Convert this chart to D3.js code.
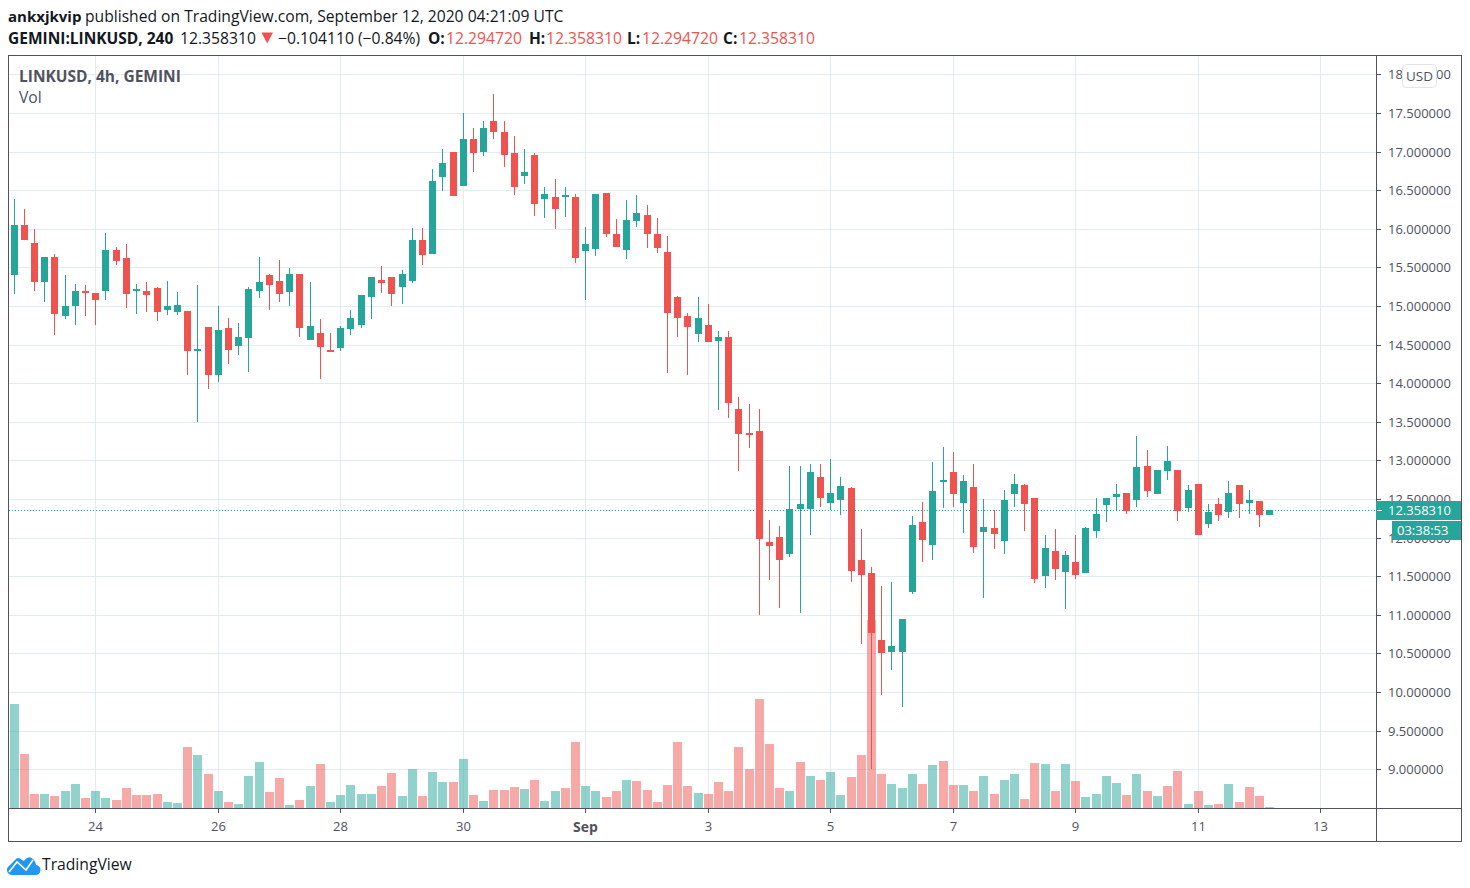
<!DOCTYPE html>
<html>
<head>
<meta charset="utf-8">
<title>LINKUSD</title>
<script src="https://cdnjs.cloudflare.com/ajax/libs/d3/7.8.5/d3.min.js"></script>
<style>
  html, body { margin: 0; padding: 0; background: #fff; }
  svg { display: block; }
  text { font-family: "Open Sans", "Noto Sans", sans-serif; }
</style>
</head>
<body>
<div id="chart"></div>
<script>
// 4h candles, first one is Aug 22 16:00
const opens = [
  15.40,16.05,15.82,15.31,15.63,14.87,15.00,15.20,15.17,15.20,
  15.73,15.62,15.19,15.19,15.23,14.95,14.92,14.93,14.42,14.73,
  14.10,14.71,14.48,14.59,15.20,15.40,15.33,15.18,15.41,14.56,
  14.65,14.43,14.45,14.70,14.75,15.12,15.34,15.38,15.25,15.33,
  15.86,15.68,16.67,16.99,16.55,17.16,17.00,17.40,17.26,16.98,
  16.69,16.95,16.38,16.41,16.41,16.41,15.71,15.74,16.46,15.93,
  15.73,16.10,16.18,15.93,15.70,15.12,14.87,14.64,14.75,14.55,
  14.60,13.66,13.35,13.38,11.94,12.01,11.79,12.37,12.37,12.79,
  12.45,12.49,12.64,11.71,11.54,10.67,10.52,10.52,11.30,12.20,
  11.91,12.72,12.85,12.45,12.65,12.07,12.13,11.96,12.57,12.68,
  12.51,11.50,11.83,11.56,11.69,11.54,12.09,12.42,12.52,12.58,
  12.49,12.93,12.57,12.86,12.88,12.38,12.69,12.18,12.44,12.33,
  12.68,12.45,12.47,12.29472
];
const highs = [
  16.39,16.26,16.00,15.63,15.68,15.40,15.29,15.27,15.17,15.95,
  15.77,15.80,15.29,15.31,15.24,15.32,15.18,14.93,15.27,14.73,
  15.00,14.85,14.78,15.24,15.63,15.41,15.59,15.49,15.41,15.31,
  14.83,14.65,14.74,14.95,15.14,15.37,15.52,15.38,15.47,16.01,
  16.01,16.77,17.03,16.99,17.50,17.31,17.40,17.75,17.40,17.20,
  17.03,16.98,16.54,16.65,16.54,16.45,16.02,16.45,16.47,16.13,
  16.37,16.44,16.31,16.14,15.91,15.13,14.91,15.12,15.03,14.68,
  14.67,13.82,13.73,13.66,12.23,12.15,12.93,12.93,12.95,12.95,
  13.02,12.79,12.65,12.11,11.62,11.37,11.42,10.95,12.28,12.46,
  12.98,13.18,13.11,12.81,12.95,12.50,12.36,12.62,12.83,12.70,
  12.51,12.04,12.11,11.83,12.03,12.14,12.51,12.51,12.70,12.58,
  13.31,13.14,12.87,13.19,12.88,12.68,12.69,12.43,12.51,12.73,
  12.68,12.62,12.47,12.35831
];
const lows = [
  15.15,15.85,15.20,15.05,14.62,14.83,14.75,14.87,14.75,15.08,
  15.53,14.97,14.90,14.92,14.80,14.88,14.88,14.11,13.50,13.92,
  14.02,14.25,14.37,14.14,15.10,14.95,15.05,15.00,14.60,14.56,
  14.05,14.41,14.42,14.63,14.71,14.83,15.17,15.00,15.03,15.30,
  15.53,15.68,16.49,16.42,16.55,16.74,16.94,17.16,16.80,16.44,
  16.58,16.17,16.14,16.00,16.15,15.56,15.08,15.65,15.89,15.77,
  15.61,16.02,15.75,15.69,14.13,14.60,14.11,14.54,14.54,13.65,
  13.55,12.86,13.16,11.00,11.45,11.09,11.75,11.02,12.04,12.40,
  12.36,12.29,11.43,10.62,9.00,9.96,10.29,9.80,11.27,11.69,
  11.71,12.38,12.40,12.06,11.80,11.22,11.85,11.79,12.39,12.08,
  11.41,11.35,11.45,11.07,11.47,11.54,12.00,12.20,12.34,12.30,
  12.40,12.52,12.56,12.74,12.21,12.33,12.04,12.13,12.21,12.26,
  12.26,12.30,12.14,12.29472
];
const closes = [
  16.05,15.85,15.31,15.63,14.89,15.00,15.20,15.18,15.08,15.73,
  15.58,15.15,15.22,15.14,14.92,15.00,15.01,14.42,14.44,14.10,
  14.69,14.43,14.60,15.22,15.31,15.27,15.16,15.41,14.71,14.74,
  14.47,14.41,14.71,14.84,15.14,15.37,15.30,15.15,15.42,15.86,
  15.66,16.62,16.85,16.42,17.16,16.98,17.30,17.25,16.95,16.54,
  16.73,16.32,16.45,16.26,16.44,15.62,15.80,16.45,15.93,15.77,
  16.11,16.20,15.93,15.75,14.91,14.84,14.73,14.85,14.54,14.60,
  13.74,13.34,13.33,11.98,11.89,11.71,12.37,12.44,12.85,12.51,
  12.58,12.67,11.57,11.52,10.76,10.51,10.59,10.94,12.16,11.97,
  12.60,12.75,12.56,12.73,11.88,12.14,12.05,12.49,12.70,12.43,
  11.46,11.86,11.59,11.77,11.52,12.12,12.31,12.51,12.57,12.35,
  12.92,12.60,12.87,12.99,12.35,12.62,12.04,12.33,12.29,12.58,
  12.43,12.49,12.29,12.35831
];
// volume has no scale in the picture, so these are relative heights
const volumes = [
  313,163,43,43,37,52,73,31,52,31,
  25,61,40,40,43,19,16,184,160,103,
  52,19,13,97,139,49,91,10,25,67,
  133,19,40,70,43,43,67,106,37,118,
  37,109,79,79,148,40,22,55,55,64,
  58,85,22,52,61,199,67,52,34,52,
  85,82,55,19,70,199,67,46,43,79,
  52,184,118,328,193,61,52,139,97,85,
  109,40,94,160,564,103,73,61,103,73,
  130,142,70,70,52,97,43,85,103,28,
  136,133,52,133,82,34,43,97,76,40,
  103,52,37,67,112,13,52,10,13,73,
  19,64,37,4
];
// volume colour does not always follow the candle colour
const volumeDir = [
  'udduduuduu', 'ddddduudud', 'uduuuddudu', 'duuuuudduu',
  'duudududdd', 'uduudduudd', 'uddddddudd', 'ddddddudud',
  'uudddduuud', 'uddududuud', 'dududuuuud', 'ududdududu', 'dddu'
].join('').split('');

const priceTicks = [18, 17.5, 17, 16.5, 16, 15.5, 15, 14.5, 14, 13.5, 13, 12.5, 12, 11.5, 11, 10.5, 10, 9.5, 9];
const dateTickIndex = [8, 20, 32, 44, 56, 68, 80, 92, 104, 116, 128];
const dateTickLabels = ['24', '26', '28', '30', 'Sep', '3', '5', '7', '9', '11', '13'];
const lastPrice = 12.35831;

const width = 1470, height = 888;
const ink = '#50535e', gridColor = '#e1ecf2';
const upColor = '#26a69a', downColor = '#ef5350';
const paneLeft = 9, paneRight = 1376, paneTop = 56, paneBottom = 808;

const svg = d3.select('#chart').append('svg').attr('width', width).attr('height', height);

const x = d3.scaleLinear().domain([0, 123]).rangeRound([13.6, 1269.2]);
const y = d3.scaleLinear().domain([9, 18]).rangeRound([769.2, 74.4]);
const yVol = d3.scaleLinear().domain([0, 564]).rangeRound([808, 620]);

// grid
const grid = svg.append('g');
grid.selectAll('.hgrid').data(priceTicks).enter().append('rect')
  .attr('x', paneLeft).attr('y', d => y(d))
  .attr('width', paneRight - paneLeft).attr('height', 1).attr('fill', gridColor);
grid.selectAll('.vgrid').data(dateTickIndex).enter().append('rect')
  .attr('x', d => x(d)).attr('y', paneTop)
  .attr('width', 1).attr('height', paneBottom - paneTop).attr('fill', gridColor);

// volume
svg.append('g').selectAll('rect').data(volumes).enter().append('rect')
  .attr('x', (d, i) => x(i) - 4)
  .attr('y', d => yVol(d))
  .attr('width', 9)
  .attr('height', d => yVol(0) - yVol(d))
  .attr('fill', (d, i) => volumeDir[i] === 'u' ? upColor : downColor)
  .attr('fill-opacity', 0.5);

// last price line, it runs under the candles
svg.append('line')
  .attr('x1', paneLeft).attr('x2', paneRight)
  .attr('y1', y(lastPrice) + 0.5).attr('y2', y(lastPrice) + 0.5)
  .attr('stroke', upColor).attr('stroke-dasharray', '1 2');

// candles
const candles = svg.append('g').selectAll('g').data(opens).enter().append('g')
  .attr('fill', (d, i) => closes[i] >= d ? upColor : downColor);
candles.append('rect')
  .attr('x', (d, i) => x(i))
  .attr('y', (d, i) => y(highs[i]))
  .attr('width', 1)
  .attr('height', (d, i) => y(lows[i]) - y(highs[i]));
candles.append('rect')
  .attr('x', (d, i) => x(i) - 3)
  .attr('y', (d, i) => y(Math.max(d, closes[i])))
  .attr('width', 7)
  .attr('height', (d, i) => Math.max(2, y(Math.min(d, closes[i])) - y(Math.max(d, closes[i]))));

// axes
const priceAxis = svg.append('g')
  .attr('transform', `translate(${paneRight},0)`)
  .call(d3.axisRight(y).tickValues(priceTicks).tickFormat(d3.format('.6f')).tickSize(5).tickPadding(7));
const dateAxis = svg.append('g')
  .attr('transform', `translate(0,${paneBottom})`)
  .call(d3.axisBottom(x).tickValues(dateTickIndex).tickFormat((d, i) => dateTickLabels[i]).tickSize(5).tickPadding(9));
[priceAxis, dateAxis].forEach(a => {
  a.select('.domain').remove();
  a.selectAll('line').attr('stroke', ink);
  a.selectAll('text').attr('fill', ink).style('font-size', '13px').style('font-family', null);
});
dateAxis.selectAll('text').filter(d => d === 56).style('font-weight', 'bold').style('font-size', '14px');

// frame
svg.append('rect').attr('x', 8.5).attr('y', 55.5).attr('width', 1453).attr('height', 786)
  .attr('fill', 'none').attr('stroke', ink);
svg.append('rect').attr('x', paneRight).attr('y', paneTop).attr('width', 1).attr('height', 785).attr('fill', ink);
svg.append('rect').attr('x', paneLeft).attr('y', paneBottom).attr('width', 1452).attr('height', 1).attr('fill', ink);

// USD box
svg.append('rect').attr('x', 1402.5).attr('y', 64.5).attr('width', 34).attr('height', 23).attr('rx', 4)
  .attr('fill', '#fff').attr('stroke', '#e0e3eb');
svg.append('text').attr('x', 1419.5).attr('y', 80.5).attr('text-anchor', 'middle')
  .attr('fill', ink).style('font-size', '13.5px').text('USD');

// last price labels
svg.append('rect').attr('x', paneRight).attr('y', 501).attr('width', 85).attr('height', 19).attr('fill', upColor);
svg.append('rect').attr('x', paneRight + 1).attr('y', y(lastPrice)).attr('width', 5).attr('height', 1).attr('fill', '#fff');
svg.append('text').attr('x', 1388).attr('y', 515).attr('fill', '#fff').style('font-size', '13px').text(d3.format('.6f')(lastPrice));
svg.append('rect').attr('x', 1392).attr('y', 521).attr('width', 69).attr('height', 19).attr('fill', upColor);
svg.append('text').attr('x', 1397).attr('y', 535).attr('fill', '#fff').style('font-size', '13px').text('03:38:53');

// header
const dark = '#131722';
function label(px, py, str, color, bold, size) {
  return svg.append('text').attr('x', px).attr('y', py).attr('fill', color)
    .style('font-weight', bold ? 'bold' : 'normal').style('font-size', size + 'px').text(str);
}
label(8, 22, 'ankxjkvip', dark, true, 15);
label(85, 22, 'published on TradingView.com, September 12, 2020 04:21:09 UTC', dark, false, 15.65);
label(8, 44, 'GEMINI:LINKUSD, 240', dark, true, 15.5);
label(180, 44, '12.358310', dark, false, 15.7);
svg.append('path').attr('d', 'M261.5,32.5H273L267.2,43.5Z').attr('fill', downColor);
label(278, 44, '\u22120.104110 (\u22120.84%)', dark, false, 15.7);
label(428, 44, 'O:', dark, true, 15.5);
label(446, 44, '12.294720', downColor, false, 15.7);
label(529, 44, 'H:', dark, true, 15.5);
label(546, 44, '12.358310', downColor, false, 15.7);
label(627, 44, 'L:', dark, true, 15.5);
label(642, 44, '12.294720', downColor, false, 15.7);
label(723, 44, 'C:', dark, true, 15.5);
label(739, 44, '12.358310', downColor, false, 15.7);

// pane legend
label(19, 82, 'LINKUSD, 4h, GEMINI', ink, true, 15.5);
label(19, 103, 'Vol', ink, false, 15.7);

// logo
svg.append('path')
  .attr('d', 'M12,875 A5,5 0 0 1 9,866 L15,860 Q18,856 22,860 L24,861 Q29,854 34,860 Q36,863 36,865 A5,5 0 0 1 35,875 Z')
  .attr('fill', '#2196f3');
svg.append('polyline').attr('points', '9,872 17,862 26,870 33,860')
  .attr('fill', 'none').attr('stroke', '#fff').attr('stroke-width', 1.6);
label(42, 870, 'TradingView', dark, false, 15.7);
</script>
</body>
</html>
